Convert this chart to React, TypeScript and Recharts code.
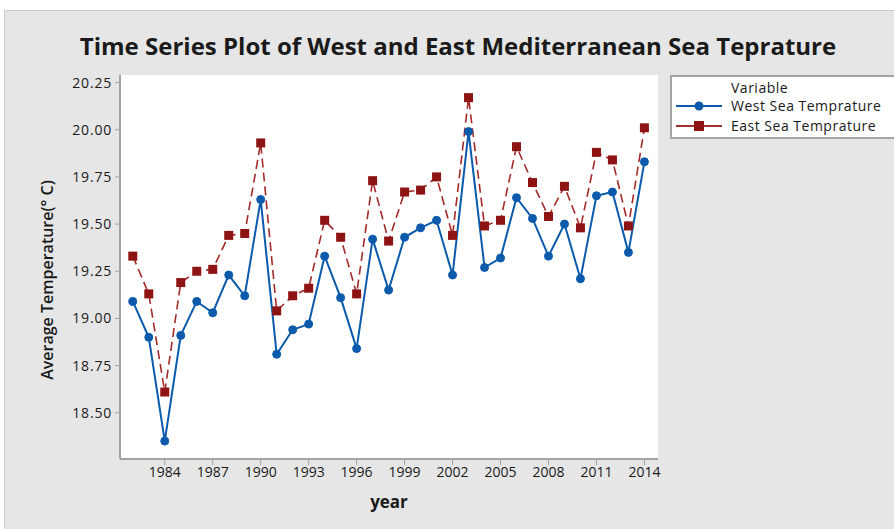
import { CartesianGrid, Legend, Line, LineChart, XAxis, YAxis } from "recharts";

const years = [
  1982, 1983, 1984, 1985, 1986, 1987, 1988, 1989, 1990, 1991, 1992, 1993, 1994, 1995, 1996, 1997, 1998,
  1999, 2000, 2001, 2002, 2003, 2004, 2005, 2006, 2007, 2008, 2009, 2010, 2011, 2012, 2013, 2014
];

const westTemps = [
  19.09, 18.9, 18.35, 18.91, 19.09, 19.03, 19.23, 19.12, 19.63, 18.81, 18.94, 18.97, 19.33, 19.11, 18.84,
  19.42, 19.15, 19.43, 19.48, 19.52, 19.23, 19.99, 19.27, 19.32, 19.64, 19.53, 19.33, 19.5, 19.21, 19.65,
  19.67, 19.35, 19.83
];

const eastTemps = [
  19.33, 19.13, 18.61, 19.19, 19.25, 19.26, 19.44, 19.45, 19.93, 19.04, 19.12, 19.16, 19.52, 19.43, 19.13,
  19.73, 19.41, 19.67, 19.68, 19.75, 19.44, 20.17, 19.49, 19.52, 19.91, 19.72, 19.54, 19.7, 19.48, 19.88,
  19.84, 19.49, 20.01
];

const yearTicks = [1984, 1987, 1990, 1993, 1996, 1999, 2002, 2005, 2008, 2011, 2014];
const tempTicks = [18.5, 18.75, 19.0, 19.25, 19.5, 19.75, 20.0, 20.25];

const data = years.map((year, i) => ({ year, west: westTemps[i], east: eastTemps[i] }));

const FONT = "'Open Sans', sans-serif";
const BLUE = "#0b5aab";
const RED = "#8e1414";
const FRAME = "#a3a3a3";
const xDomain = [1981.2, 2014.85];
const yDomain = [18.255, 20.29];

const SquareDot = (props: any) => {
  const { cx, cy } = props;
  if (cx == null || cy == null) return null;
  return <rect x={cx - 4.5} y={cy - 4.5} width={9} height={9} fill={RED} />;
};

const YTitle = (props: any) => {
  const { viewBox } = props;
  const cx = viewBox.x - 13;
  const cy = viewBox.y + viewBox.height / 2 + 13;
  return (
    <text
      x={cx}
      y={cy}
      transform={`rotate(-90 ${cx} ${cy})`}
      textAnchor="middle"
      dominantBaseline="central"
      fontFamily={FONT}
      fontWeight={600}
      fontSize={16}
      fill="#1a1a1a"
    >
      Average Temperature(° C)
    </text>
  );
};

const XTitle = (props: any) => {
  const { viewBox } = props;
  return (
    <text
      x={viewBox.x + viewBox.width / 2}
      y={viewBox.y + viewBox.height + 12}
      textAnchor="middle"
      dominantBaseline="central"
      fontFamily={FONT}
      fontWeight={700}
      fontSize={17}
      fill="#1a1a1a"
    >
      year
    </text>
  );
};

const LegendBox = () => (
  <div
    style={{
      width: 240,
      height: 64,
      background: "#fff",
      border: `2px solid ${FRAME}`,
      boxSizing: "border-box",
      position: "relative",
      fontFamily: FONT,
      fontSize: 14,
      color: "#1a1a1a",
      letterSpacing: 0.5,
      lineHeight: "18px"
    }}
  >
    <div style={{ position: "absolute", left: 59, top: 2 }}>Variable</div>
    <svg style={{ position: "absolute", left: 4, top: 21 }} width={50} height={36}>
      <line x1={0} y1={8} x2={46} y2={8} stroke={BLUE} strokeWidth={2} />
      <circle cx={23} cy={8} r={4.5} fill={BLUE} />
      <line x1={0} y1={28} x2={46} y2={28} stroke="#a03030" strokeWidth={2} />
      <rect x={18} y={23} width={10} height={10} fill={RED} />
    </svg>
    <div style={{ position: "absolute", left: 59, top: 20 }}>West Sea Temprature</div>
    <div style={{ position: "absolute", left: 59, top: 40 }}>East Sea Temprature</div>
  </div>
);

export default function App() {
  const tick = { fill: "#1a1a1a", fontSize: 14, fontFamily: FONT };
  return (
    <div
      style={{
        position: "fixed",
        left: 4,
        top: 10,
        width: 890,
        height: 519,
        background: "#e6e6e6",
        borderTop: "1px solid #cdcdcd",
        borderLeft: "1px solid #cdcdcd",
        boxSizing: "border-box"
      }}
    >
      <div
        style={{
          position: "absolute",
          left: 0,
          width: 906,
          top: 18,
          textAlign: "center",
          fontFamily: FONT,
          fontWeight: 700,
          fontSize: 24,
          lineHeight: "normal",
          color: "#1a1a1a"
        }}
      >
        Time Series Plot of West and East Mediterranean Sea Teprature
      </div>
      <LineChart
        width={889}
        height={518}
        data={data}
        margin={{ top: 64, right: 236, bottom: 40, left: 55 }}
        style={{ position: "absolute", left: 0, top: 0 }}
      >
        <CartesianGrid horizontal={false} vertical={false} fill="#ffffff" />
        <XAxis
          dataKey="year"
          type="number"
          domain={xDomain}
          ticks={yearTicks}
          interval={0}
          height={30}
          tick={tick}
          tickSize={6}
          tickMargin={2}
          tickLine={{ stroke: FRAME }}
          axisLine={{ stroke: FRAME, strokeWidth: 2 }}
          label={<XTitle />}
        />
        <XAxis
          xAxisId="top"
          orientation="top"
          dataKey="year"
          type="number"
          domain={xDomain}
          height={0}
          tick={false}
          tickLine={false}
          axisLine={{ stroke: FRAME, strokeWidth: 2 }}
        />
        <YAxis
          type="number"
          domain={yDomain}
          ticks={tempTicks}
          interval={0}
          width={60}
          tick={{ ...tick, letterSpacing: 0.8 }}
          tickSize={5}
          tickMargin={3}
          tickFormatter={(v: number) => v.toFixed(2)}
          tickLine={{ stroke: FRAME }}
          axisLine={{ stroke: FRAME, strokeWidth: 2 }}
          label={<YTitle />}
        />
        <YAxis
          yAxisId="right"
          orientation="right"
          type="number"
          domain={yDomain}
          width={0}
          tick={false}
          tickLine={false}
          axisLine={{ stroke: FRAME, strokeWidth: 2 }}
        />
        <Legend
          layout="vertical"
          align="center"
          verticalAlign="middle"
          content={<LegendBox />}
          wrapperStyle={{ left: 665, top: 64, width: 240, height: 64 }}
        />
        <Line
          dataKey="east"
          name="East Sea Temprature"
          stroke="#a52a2a"
          strokeWidth={1.6}
          strokeDasharray="9 5"
          dot={<SquareDot />}
          activeDot={false}
          isAnimationActive={false}
        />
        <Line
          dataKey="west"
          name="West Sea Temprature"
          stroke={BLUE}
          strokeWidth={2}
          dot={{ r: 4, fill: BLUE, stroke: BLUE, strokeWidth: 1 }}
          activeDot={false}
          isAnimationActive={false}
        />
      </LineChart>
    </div>
  );
}
